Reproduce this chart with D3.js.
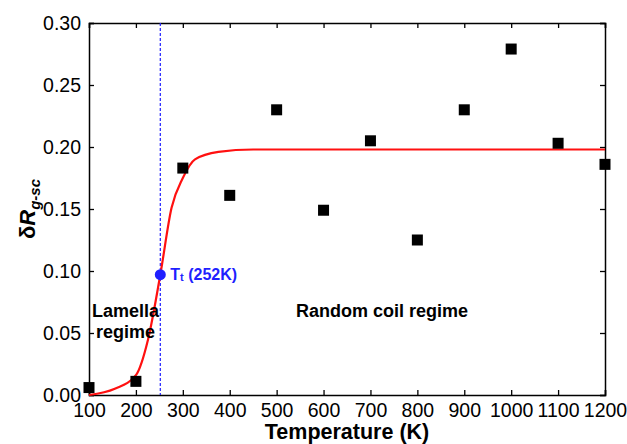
<!DOCTYPE html>
<html>
<head>
<meta charset="utf-8">
<script src="https://cdn.jsdelivr.net/npm/d3@7"></script>
<style>
  html, body { margin: 0; padding: 0; background: #fff; }
  svg { display: block; font-family: "Liberation Sans", Arial, sans-serif; }
</style>
</head>
<body>
<svg id="chart" width="627" height="444"></svg>
<script>
// Measured δR_g-sc values per temperature
const temperatures = [100, 200, 300, 400, 500, 600, 700, 800, 900, 1000, 1100, 1200];
const deltaR = [0.006, 0.011, 0.183, 0.161, 0.230, 0.149, 0.205, 0.125, 0.230, 0.279, 0.203, 0.186];

// Sigmoidal fit curve, sampled
const fitT = [100, 155, 200, 226, 252, 276, 300, 326, 376, 450, 1200];
const fitR = [0.000, 0.005, 0.016, 0.045, 0.097, 0.151, 0.175, 0.190, 0.196, 0.198, 0.198];

// Transition temperature
const transitionT = 252;
const transitionR = 0.097;

const xTicks = [100, 200, 300, 400, 500, 600, 700, 800, 900, 1000, 1100, 1200];
const yTicks = [0.00, 0.05, 0.10, 0.15, 0.20, 0.25, 0.30];

const svg = d3.select("#chart");
const plotLeft = 89, plotRight = 605, plotTop = 23, plotBottom = 395;

const x = d3.scaleLinear().domain([100, 1200]).range([plotLeft, plotRight]);
const y = d3.scaleLinear().domain([0, 0.30]).range([plotBottom, plotTop]);

const tickLen = 5;

// Axes with inward ticks
svg.append("g").attr("transform", `translate(0,${plotBottom})`)
  .call(d3.axisBottom(x).tickValues(xTicks).tickSize(-tickLen).tickPadding(5).tickFormat(d3.format("d")))
  .call(g => g.selectAll("text").attr("font-size", "19.5px").attr("fill", "#000").attr("dy", "0.88em"));
svg.append("g").attr("transform", `translate(0,${plotTop})`)
  .call(d3.axisTop(x).tickValues(xTicks).tickSize(-tickLen).tickFormat(""));
svg.append("g").attr("transform", `translate(${plotLeft},0)`)
  .call(d3.axisLeft(y).tickValues(yTicks).tickSize(-tickLen).tickPadding(8).tickFormat(d3.format(".2f")))
  .call(g => g.selectAll("text").attr("font-size", "19.5px").attr("fill", "#000"));
svg.append("g").attr("transform", `translate(${plotRight},0)`)
  .call(d3.axisRight(y).tickValues(yTicks).tickSize(-tickLen).tickFormat(""));

svg.selectAll(".domain").attr("stroke", "#000").attr("stroke-width", 1.5);
svg.selectAll(".tick line").attr("stroke", "#000").attr("stroke-width", 1.3);

// Transition line
svg.append("line")
  .attr("x1", x(transitionT)).attr("x2", x(transitionT))
  .attr("y1", y(0.30)).attr("y2", y(0))
  .attr("stroke", "#1f1fff").attr("stroke-width", 1.2)
  .attr("stroke-dasharray", "3,2");

// Fit curve
const fitData = fitT.map((t, i) => [t, fitR[i]]);
svg.append("path")
  .datum(fitData)
  .attr("fill", "none")
  .attr("stroke", "#ff1010")
  .attr("stroke-width", 2.2)
  .attr("d", d3.line().x(d => x(d[0])).y(d => y(d[1])).curve(d3.curveMonotoneX));

// Data squares
const sq = 11;
svg.selectAll("rect.pt")
  .data(temperatures.map((t, i) => [t, deltaR[i]]))
  .join("rect")
  .attr("class", "pt")
  .attr("x", d => x(d[0]) - sq / 2)
  .attr("y", d => y(d[1]) - sq / 2)
  .attr("width", sq).attr("height", sq)
  .attr("fill", "#000");

// Transition point
svg.append("circle")
  .attr("cx", x(transitionT)).attr("cy", y(transitionR))
  .attr("r", 5.5).attr("fill", "#1f1fff");

const tt = svg.append("text")
  .attr("x", x(transitionT) + 10).attr("y", y(transitionR) + 5.5)
  .attr("fill", "#1f1fff").attr("font-weight", "bold").attr("font-size", "16px");
tt.append("tspan").text("T");
tt.append("tspan").attr("font-size", "11px").attr("dy", "1").text("t");
tt.append("tspan").attr("dy", "-1").text(" (252K)");

// Regime labels
svg.append("text").attr("x", 92).attr("y", 317)
  .attr("font-weight", "bold").attr("font-size", "18px").text("Lamella");
svg.append("text").attr("x", 96).attr("y", 338)
  .attr("font-weight", "bold").attr("font-size", "18px").text("regime");
svg.append("text").attr("x", 382).attr("y", 317).attr("text-anchor", "middle")
  .attr("font-weight", "bold").attr("font-size", "18px").text("Random coil regime");

// Axis titles
svg.append("text").attr("x", (plotLeft + plotRight) / 2).attr("y", 439)
  .attr("text-anchor", "middle").attr("font-weight", "bold").attr("font-size", "21.5px")
  .text("Temperature (K)");

const yl = svg.append("text")
  .attr("transform", `translate(35,${(plotTop + plotBottom) / 2}) rotate(-90)`)
  .attr("text-anchor", "middle").attr("font-weight", "bold").attr("font-size", "22px");
yl.append("tspan").text("δ");
yl.append("tspan").attr("font-style", "italic").text("R");
yl.append("tspan").attr("font-style", "italic").attr("font-size", "15px").attr("dy", "5").text("g-sc");
</script>
</body>
</html>
